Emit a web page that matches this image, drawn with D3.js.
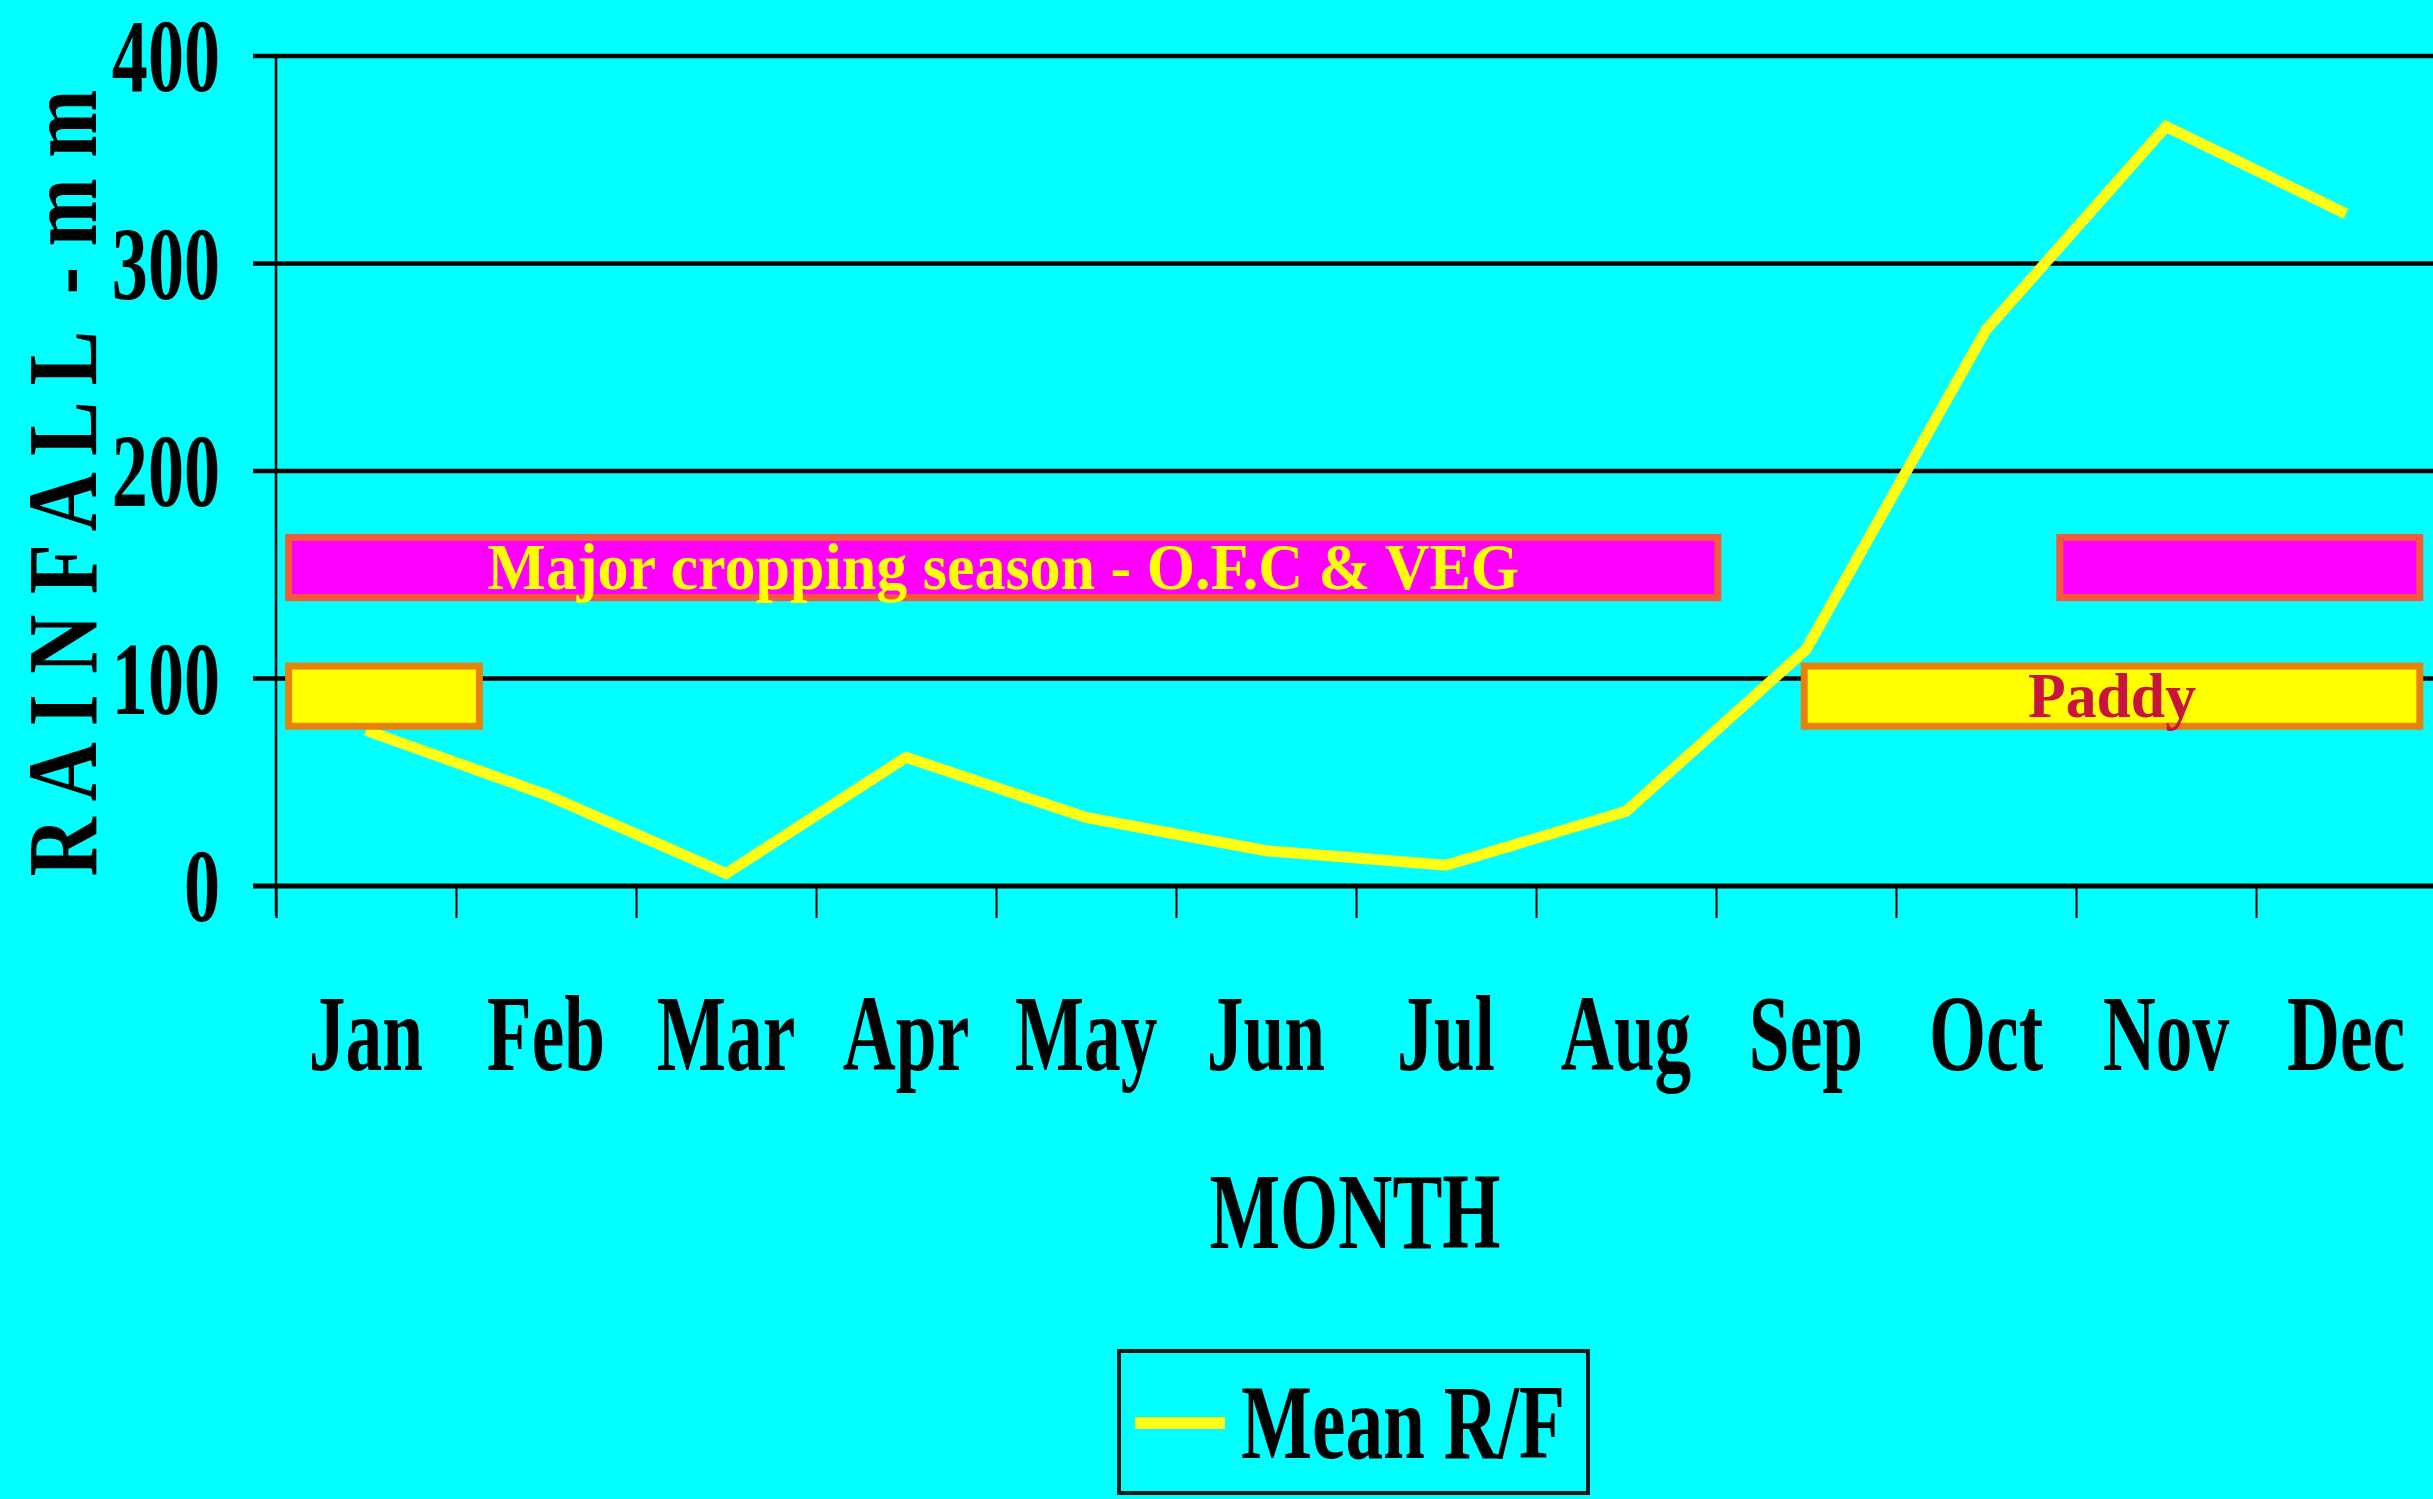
<!DOCTYPE html>
<html>
<head>
<meta charset="utf-8">
<script src="https://cdn.jsdelivr.net/npm/d3@7"></script>
<style>
  html, body { margin: 0; padding: 0; background: #00ffff; overflow: hidden; }
  text { font-family: "Liberation Serif", "Times New Roman", serif; font-weight: bold; }
</style>
</head>
<body>
<div id="chart"></div>
<script>
// monthly mean rainfall (mm)
var months = ["Jan", "Feb", "Mar", "Apr", "May", "Jun", "Jul", "Aug", "Sep", "Oct", "Nov", "Dec"];
var meanRF = [75, 44, 6, 62, 33, 17, 10, 36, 114, 268, 366, 324];
var yTicks = [0, 100, 200, 300, 400];

// seasons, as month index spans (0 = start of Jan, 12 = end of Dec)
var majorSeason = [[0.07, 8.01], [9.91, 11.91]];
var paddySeason = [[0.07, 1.13], [8.49, 11.91]];
var majorLabels = ["Major cropping season - O.F.C & VEG", ""];
var paddyLabels = ["", "Paddy"];
var majorRange = [139, 168];
var paddyRange = [77, 106];

var W = 2433, H = 1499;
var svg = d3.select("#chart").append("svg").attr("width", W).attr("height", H);
svg.append("rect").attr("width", W).attr("height", H).attr("fill", "#00ffff");

var x = d3.scaleLinear().domain([0, 12]).range([276, 2436]);
var y = d3.scaleLinear().domain([0, 400]).range([886, 56]);

// slide text is narrow, so squeeze it sideways around its anchor
function place(tx, ty, k) { return "translate(" + tx + "," + ty + ") scale(" + k + ",1)"; }

// gridlines + y ticks
svg.append("g").selectAll("line").data(yTicks).enter().append("line")
  .attr("x1", 253).attr("x2", W)
  .attr("y1", function(d) { return y(d); }).attr("y2", function(d) { return y(d); })
  .attr("stroke", "#000").attr("stroke-width", function(d) { return d == 0 ? 5 : 4.5; });

svg.append("line").attr("x1", x(0)).attr("x2", x(0)).attr("y1", y(400)).attr("y2", y(0) + 30)
  .attr("stroke", "#000").attr("stroke-width", 2.5);

svg.append("g").selectAll("text").data(yTicks).enter().append("text")
  .attr("transform", function(d) { return place(220, y(d) + 35, 0.7); })
  .attr("text-anchor", "end").style("font-size", "103px").attr("fill", "#000")
  .text(function(d) { return d; });

// x axis ticks between months
var xAxis = d3.axisBottom(x).tickValues(d3.range(13)).tickSize(32).tickFormat("");
var gx = svg.append("g").attr("transform", "translate(0," + y(0) + ")").call(xAxis);
gx.select(".domain").remove();
gx.selectAll(".tick line").attr("stroke", "#000").attr("stroke-width", 2);

svg.append("g").selectAll("text").data(months).enter().append("text")
  .attr("transform", function(d, i) { return place(x(i + 0.5), 1070, 0.68); })
  .attr("text-anchor", "middle").style("font-size", "108px").attr("fill", "#000")
  .text(function(d) { return d; });

// rainfall line
var line = d3.line().x(function(d, i) { return x(i + 0.5); }).y(function(d) { return y(d); });
svg.append("path").datum(meanRF).attr("d", line)
  .attr("fill", "none").attr("stroke", "#ffff14").attr("stroke-width", 11).attr("stroke-linejoin", "miter");

// season boxes
function drawBoxes(spans, range, fill, stroke, labels, color, size, k) {
  var g = svg.append("g");
  g.selectAll("rect").data(spans).enter().append("rect")
    .attr("x", function(d) { return x(d[0]); })
    .attr("width", function(d) { return x(d[1]) - x(d[0]); })
    .attr("y", y(range[1])).attr("height", y(range[0]) - y(range[1]))
    .attr("fill", fill).attr("stroke", stroke).attr("stroke-width", 7);
  g.selectAll("text").data(spans).enter().append("text")
    .attr("transform", function(d) {
      return place((x(d[0]) + x(d[1])) / 2, (y(range[0]) + y(range[1])) / 2 + size * 0.33, k);
    })
    .attr("text-anchor", "middle").style("font-size", size + "px").attr("fill", color)
    .text(function(d, i) { return labels[i]; });
}
drawBoxes(majorSeason, majorRange, "#ff00ff", "#f45a3a", majorLabels, "#ffff00", 66, 0.94);
drawBoxes(paddySeason, paddyRange, "#ffff00", "#e8800c", paddyLabels, "#c8143c", 63, 0.98);

// axis titles
var yTitle = svg.append("text")
  .attr("text-anchor", "middle").style("font-size", "100px").attr("fill", "#000")
  .text("R A I N F A L L \u00a0- m m");
var k = 787 / yTitle.node().getComputedTextLength();
yTitle.attr("transform", "translate(96,483) rotate(-90) scale(" + k + ",1)");

svg.append("text").attr("transform", place(1355, 1248, 0.7))
  .attr("text-anchor", "middle").style("font-size", "107px").attr("fill", "#000").text("MONTH");

// legend
var legend = svg.append("g");
legend.append("rect").attr("x", 1119).attr("y", 1351).attr("width", 469).attr("height", 142)
  .attr("fill", "none").attr("stroke", "#001a1a").attr("stroke-width", 4);
legend.append("line").attr("x1", 1135).attr("x2", 1225).attr("y1", 1423).attr("y2", 1423)
  .attr("stroke", "#ffff14").attr("stroke-width", 12);
legend.append("text").attr("transform", place(1241, 1458, 0.71))
  .style("font-size", "106px").attr("fill", "#000").text("Mean R/F");
</script>
</body>
</html>
